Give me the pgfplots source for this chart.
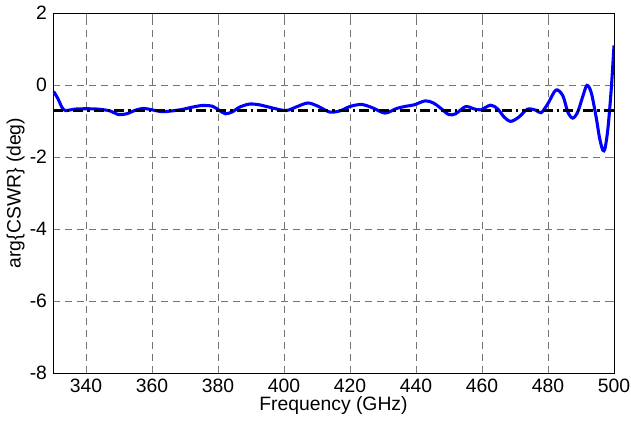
\documentclass[border=0pt]{standalone}
\usepackage{fontspec}
\setmainfont{Liberation Sans}
\usepackage{pgfplots}
\pgfplotsset{compat=1.18}

% phase of the complex standing-wave ratio versus frequency
\pgfplotstableread{
f      arg
330.2  -0.18
331.5  -0.38
332.7  -0.62
333.8  -0.71
336.6  -0.67
340.0  -0.66
343.7  -0.67
347.3  -0.72
349.8  -0.82
352.3  -0.80
355.0  -0.70
357.4  -0.65
360.0  -0.69
363.0  -0.74
366.0  -0.72
369.1  -0.68
372.0  -0.62
375.2  -0.57
378.3  -0.59
380.5  -0.71
382.3  -0.80
384.5  -0.74
386.4  -0.62
389.5  -0.53
392.5  -0.55
396.6  -0.64
400.6  -0.71
403.7  -0.61
407.2  -0.50
410.3  -0.59
413.8  -0.75
416.9  -0.72
419.9  -0.60
423.5  -0.54
427.0  -0.64
430.6  -0.78
434.2  -0.65
437.0  -0.59
439.5  -0.55
442.8  -0.44
445.3  -0.50
447.4  -0.64
449.9  -0.82
452.0  -0.80
455.0  -0.60
457.5  -0.66
459.6  -0.69
462.6  -0.56
464.7  -0.66
466.7  -0.89
468.7  -1.01
471.2  -0.89
473.8  -0.67
476.3  -0.70
477.9  -0.77
479.9  -0.53
482.4  -0.14
484.5  -0.30
486.0  -0.75
487.5  -0.92
489.0  -0.75
490.6  -0.30
491.8  -0.01
493.1  -0.21
494.6  -0.90
495.6  -1.46
496.6  -1.81
497.3  -1.75
498.2  -1.17
499.2  -0.07
500.0   1.10
}\cswr

\begin{document}
\begin{tikzpicture}[x=1pt,y=1pt]
\begin{axis}[
  scale only axis,
  width=420.75pt, height=270pt,
  xmin=330, xmax=500, ymin=-8, ymax=2,
  xtick={340,360,...,500},
  ytick={-8,-6,...,2},
  tick pos=both, tick align=inside,
  major tick length=4pt,
  grid=major,
  major grid style={dash pattern=on 5pt off 4pt, black!55, line width=0.5pt},
  axis line style={black, line width=0.6pt},
  /pgf/number format/assume math mode=true,
  tick label style={font=\fontsize{14.5}{16}\selectfont},
  label style={font=\fontsize{14.5}{16}\selectfont},
  xlabel={Frequency (GHz)},
  ylabel={arg\{CSWR\} (deg)},
  xlabel style={yshift=4pt},
  ylabel style={yshift=-3pt},
  xticklabel style={yshift=-1pt},
  yticklabel style={xshift=-1pt},
]
\addplot[blue, line width=2.3pt, smooth, tension=0.5] table[x=f, y=arg] {\cswr};
\addplot[black, line width=2.3pt, dash pattern=on 7.5pt off 3pt on 1.8pt off 3pt] coordinates {(330,-0.7) (500,-0.7)};
\end{axis}
\pgfresetboundingbox
\path (current axis.south west) ++(-39.75pt,-36.75pt) coordinate (bl);
\path (current axis.north east) ++(12.75pt,9.75pt) coordinate (tr);
\path (bl) rectangle (tr);
\end{tikzpicture}
\end{document}
